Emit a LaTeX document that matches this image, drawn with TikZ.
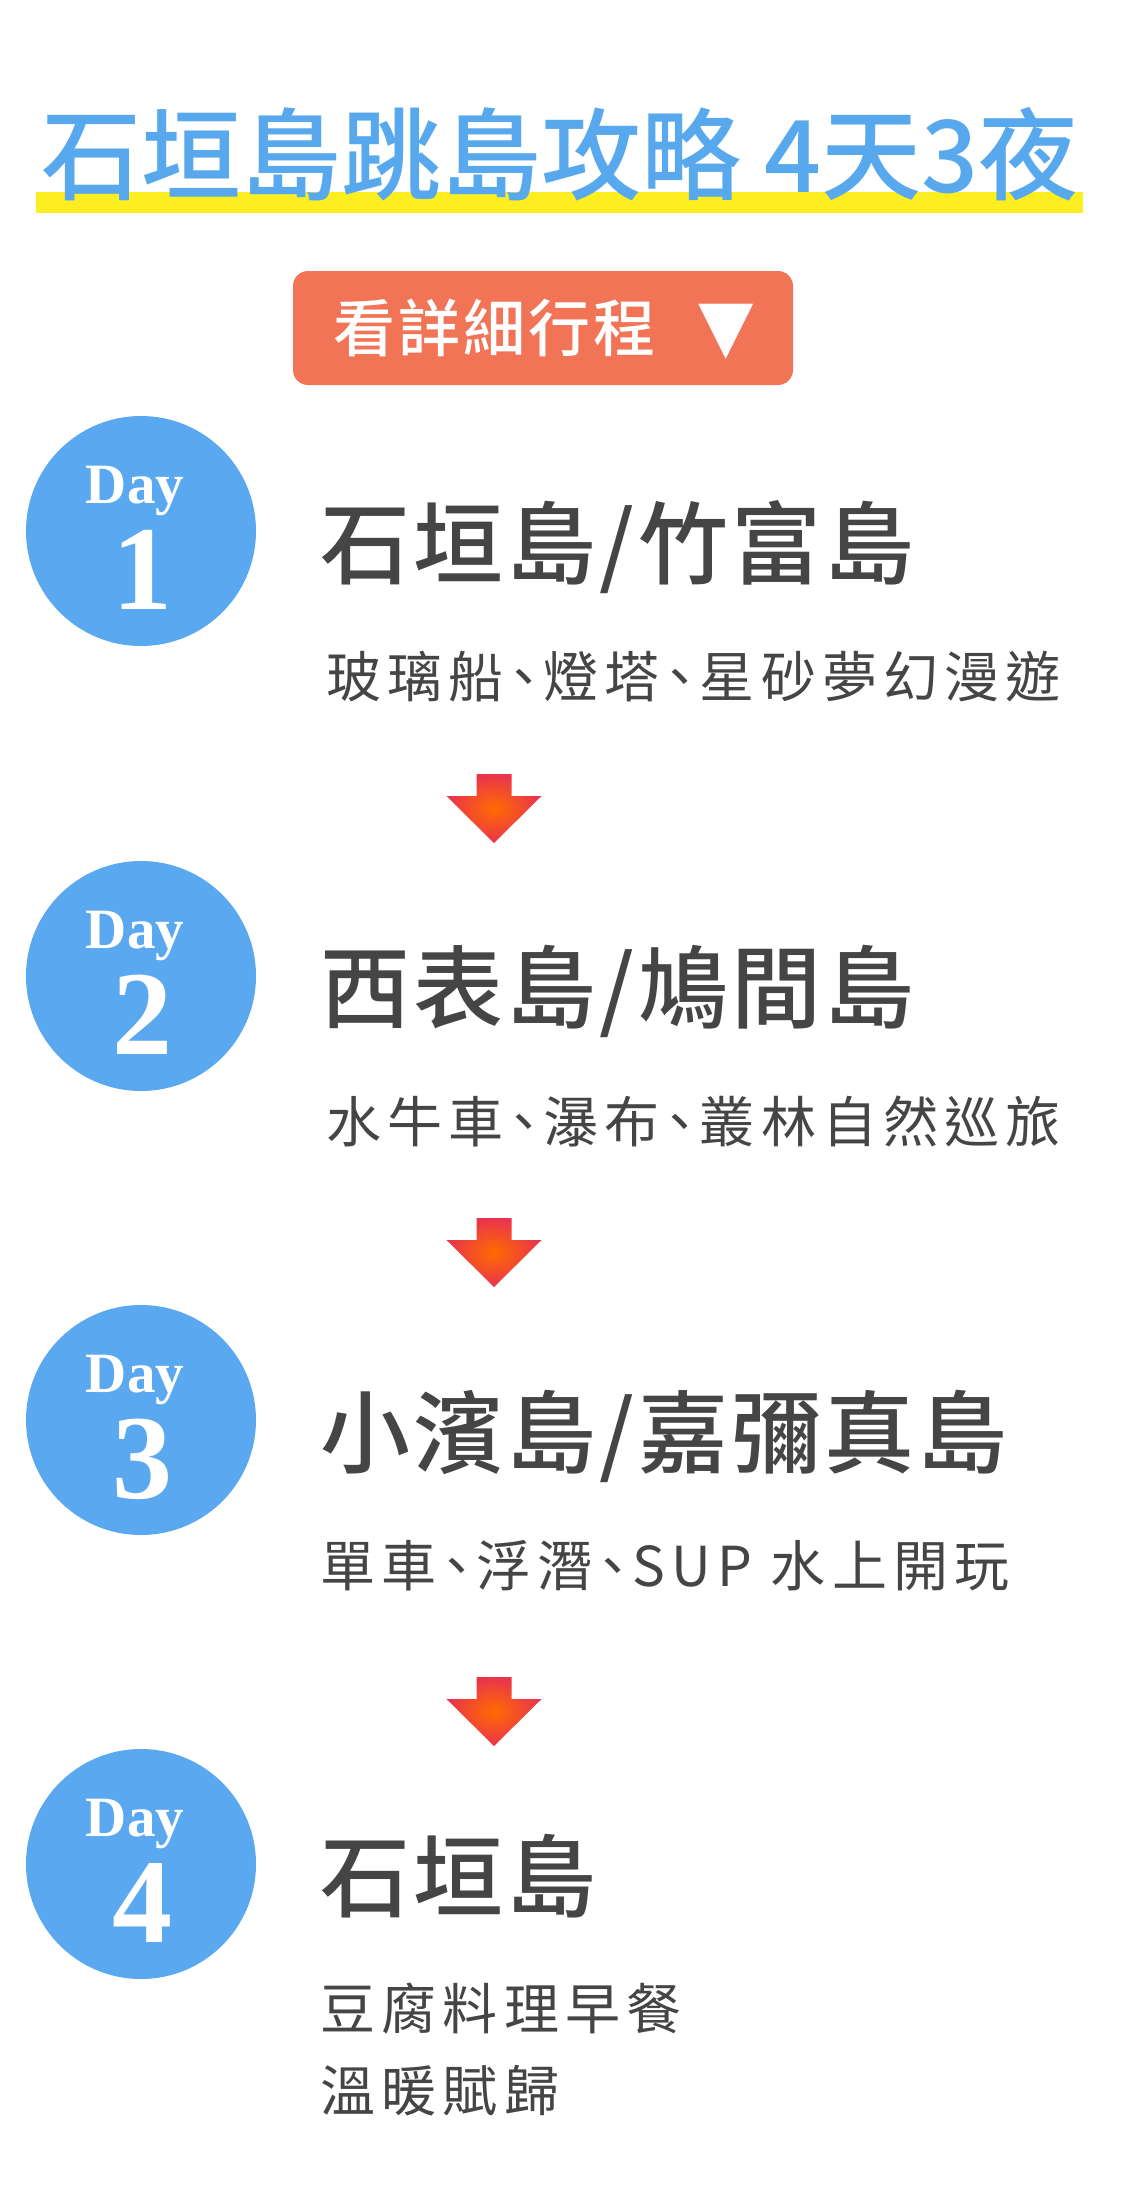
\documentclass[tikz,border=0pt]{standalone}
\usepackage{fontspec}
\newfontfamily\cjkm{Noto Sans CJK TC Medium}
\newfontfamily\cjkt{Noto Sans CJK TC Medium}[LetterSpace=3.5]
\newfontfamily\cjkb{Noto Sans CJK TC Medium}[LetterSpace=5]
\newfontfamily\cjks{Noto Sans CJK TC}[LetterSpace=11.3,CharacterWidth=AlternateHalf]
\newfontfamily\dayfont{Liberation Serif}
\newfontfamily\symfont{DejaVu Sans}
\definecolor{tblue}{RGB}{88,168,238}
\definecolor{cblue}{RGB}{90,168,239}
\definecolor{hlyellow}{RGB}{252,238,33}
\definecolor{btncol}{RGB}{242,116,87}
\definecolor{tgray}{RGB}{69,69,69}
\definecolor{arrOr}{RGB}{255,107,0}
\definecolor{arrRd}{RGB}{233,51,79}
\tikzset{
  maintitle/.style={anchor=base, inner sep=0, text=tblue, font=\cjkm\fontsize{50pt}{50pt}\selectfont},
  btnbox/.style={fill=btncol, rounded corners=7.5pt, minimum width=250pt, minimum height=57pt, inner sep=0},
  btntext/.style={anchor=base, inner sep=0, text=white, font=\cjkb\fontsize{31pt}{31pt}\selectfont},
  btntri/.style={anchor=base, inner sep=0, text=white, font=\symfont\fontsize{36pt}{36pt}\selectfont},
  daycirc/.style={circle, fill=cblue, minimum size=115pt, inner sep=0},
  daylab/.style={anchor=base, inner sep=0, text=white, font=\dayfont\bfseries\fontsize{28.5pt}{28.5pt}\selectfont},
  daynum/.style={anchor=base, inner sep=0, text=white, font=\dayfont\bfseries\fontsize{60pt}{60pt}\selectfont},
  dtitle/.style={anchor=base west, inner sep=0, text=tgray, font=\cjkt\fontsize{45pt}{45pt}\selectfont},
  dsub/.style={anchor=base west, inner sep=0, text=tgray, font=\cjks\fontsize{27.5pt}{27.5pt}\selectfont},
  arrowshade/.style={inner color=arrOr, outer color=arrRd}
}
\begin{document}
\begin{tikzpicture}[x=0.5pt,y=-0.5pt]
\useasboundingbox (0,0) rectangle (1122,2196);
\fill[white] (0,0) rectangle (1122,2196);
% title
\fill[hlyellow] (36,192) rectangle (1083,213);
\node[maintitle] (title) at (560,192) {石垣島跳島攻略 4天3夜};
% button
\node[btnbox] (btn) at (543,328) {};
\node[btntext] (btnt) at (494.5,351) {看詳細行程};
\node[btntri] (btnv) at (726,350) {▼};
% day 1
\node[daycirc] (c1) at (141,531) {};
\node[daylab] (d1) at (135,503) {Day};
\node[daynum] (n1) at (142,609) {1};
\node[dtitle] (t1) at (320,577) {石垣島/竹富島};
\node[dsub] (s1) at (326,697) {玻璃船、燈塔、星砂夢幻漫遊};
% day 2
\node[daycirc] (c2) at (141,976) {};
\node[daylab] (d2) at (135,948) {Day};
\node[daynum] (n2) at (142,1054) {2};
\node[dtitle] (t2) at (320,1021) {西表島/鳩間島};
\node[dsub] (s2) at (326,1142) {水牛車、瀑布、叢林自然巡旅};
% day 3
\node[daycirc] (c3) at (141,1420) {};
\node[daylab] (d3) at (135,1392) {Day};
\node[daynum] (n3) at (142,1498) {3};
\node[dtitle] (t3) at (320,1466) {小濱島/嘉彌真島};
\node[dsub] (s3) at (320,1586) {單車、浮潛、SUP 水上開玩};
% day 4
\node[daycirc] (c4) at (141,1864) {};
\node[daylab] (d4) at (135,1836) {Day};
\node[daynum] (n4) at (142,1942) {4};
\node[dtitle] (t4) at (320,1910) {石垣島};
\node[dsub] (s4a) at (320,2029) {豆腐料理早餐};
\node[dsub] (s4b) at (320,2111) {溫暖賦歸};
% arrows
\coordinate (a1) at (494,774);
\coordinate (a2) at (494,1218);
\coordinate (a3) at (494,1677);
\foreach \a in {a1,a2,a3}{
  \shade[arrowshade] (\a) +(-17.5,0) -- +(17.5,0) -- +(17.5,22) -- +(47.5,22) -- +(0,69) -- +(-47.5,22) -- +(-17.5,22) -- cycle;
}
\end{tikzpicture}
\end{document}
